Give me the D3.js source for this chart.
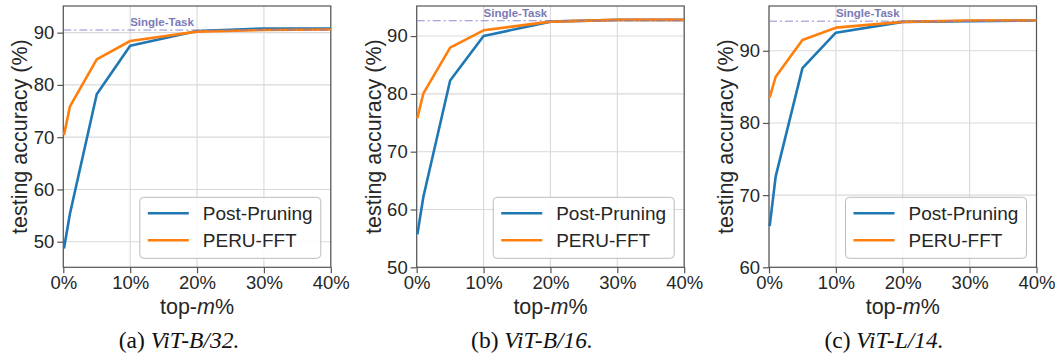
<!DOCTYPE html>
<html>
<head>
<meta charset="utf-8">
<script src="https://cdn.jsdelivr.net/npm/d3@7"></script>
<style>
  body { margin: 0; background: #fff; }
  svg { display: block; }
</style>
</head>
<body>
<svg id="chart" width="1058" height="354"></svg>
<script>
// values
const topM = [0.1, 1, 5, 10, 20, 30, 40];
const xTicks = [0, 10, 20, 30, 40];

const postPruningB32 = [48.7, 55.4, 78.2, 87.5, 90.3, 90.8, 90.8];
const peruFftB32 = [70.4, 75.9, 84.9, 88.4, 90.2, 90.5, 90.6];
const singleTaskB32 = 90.5;

const postPruningB16 = [55.7, 62.2, 82.3, 90.0, 92.5, 92.8, 92.8];
const peruFftB16 = [75.8, 80.1, 88.0, 91.0, 92.5, 92.8, 92.8];
const singleTaskB16 = 92.65;

const postPruningL14 = [65.7, 72.6, 87.6, 92.5, 94.0, 94.1, 94.2];
const peruFftL14 = [83.5, 86.4, 91.5, 93.2, 94.0, 94.2, 94.2];
const singleTaskL14 = 94.1;

const seriesNames = ["Post-Pruning", "PERU-FFT"];
const colors = ["#1f77b4", "#ff7f0e"];
const captionTags = ["(a) ", "(b) ", "(c) "];
const captionModels = ["ViT-B/32.", "ViT-B/16.", "ViT-L/14."];

const panels = [
  {left: 63.3, yDomain: [45.1, 95.1], yTicks: [50, 60, 70, 80, 90], series: [postPruningB32, peruFftB32], single: singleTaskB32, cap: 179},
  {left: 416.7, yDomain: [50, 95.2], yTicks: [50, 60, 70, 80, 90], series: [postPruningB16, peruFftB16], single: singleTaskB16, cap: 532},
  {left: 769, yDomain: [60, 96.2], yTicks: [60, 70, 80, 90], series: [postPruningL14, peruFftL14], single: singleTaskL14, cap: 884}
];

const W = 267.5, plotTop = 6, plotBottom = 267.3;
const font = "'Liberation Sans', Arial, sans-serif";
const svg = d3.select("#chart");

panels.forEach((p, k) => {
  const x = d3.scaleLinear().domain([0, 40]).range([p.left, p.left + W]);
  const y = d3.scaleLinear().domain(p.yDomain).range([plotBottom, plotTop]);
  const g = svg.append("g");

  // grid
  g.selectAll(".gx").data(xTicks).enter().append("line")
    .attr("x1", d => x(d)).attr("x2", d => x(d))
    .attr("y1", plotTop).attr("y2", plotBottom)
    .attr("stroke", "#d9d9d9").attr("stroke-width", 1.1);
  g.selectAll(".gy").data(p.yTicks).enter().append("line")
    .attr("x1", p.left).attr("x2", p.left + W)
    .attr("y1", d => y(d)).attr("y2", d => y(d))
    .attr("stroke", "#d9d9d9").attr("stroke-width", 1.1);

  // axes
  const xAxis = g.append("g").attr("transform", `translate(0,${plotBottom})`)
    .call(d3.axisBottom(x).tickValues(xTicks).tickFormat(d => d + "%").tickSizeOuter(0).tickSize(6).tickPadding(3));
  const yAxis = g.append("g").attr("transform", `translate(${p.left},0)`)
    .call(d3.axisLeft(y).tickValues(p.yTicks).tickSizeOuter(0).tickSize(6).tickPadding(3));
  [xAxis, yAxis].forEach(a => {
    a.select(".domain").remove();
    a.selectAll("line").attr("stroke", "#555").attr("stroke-width", 1.2);
    a.selectAll("text").attr("font-family", font).attr("font-size", 18.5).attr("fill", "#262626");
  });

  // spines
  g.append("rect").attr("x", p.left).attr("y", plotTop).attr("width", W).attr("height", plotBottom - plotTop)
    .attr("fill", "none").attr("stroke", "#555").attr("stroke-width", 1.2);

  // lines
  const line = d3.line().x((d, i) => x(topM[i])).y(d => y(d));
  p.series.forEach((s, j) => {
    g.append("path").datum(s).attr("d", line)
      .attr("fill", "none").attr("stroke", colors[j]).attr("stroke-width", 2.6)
      .attr("stroke-linejoin", "round");
  });

  // single-task reference
  g.append("line")
    .attr("x1", p.left).attr("x2", p.left + W)
    .attr("y1", y(p.single)).attr("y2", y(p.single))
    .attr("stroke", "#7878c8").attr("stroke-opacity", 0.85).attr("stroke-width", 1)
    .attr("stroke-dasharray", "8,3,2,3");
  g.append("text")
    .attr("x", x(10)).attr("y", y(p.single) - 4)
    .attr("font-family", font).attr("font-size", 11.5).attr("font-weight", "bold")
    .attr("fill", "#7a7ab8").text("Single-Task");

  // legend
  const lx = p.left + W - 10 - 181, ly = plotBottom - 9 - 61;
  g.append("rect").attr("x", lx).attr("y", ly).attr("width", 181).attr("height", 61)
    .attr("rx", 4).attr("fill", "#fff").attr("fill-opacity", 0.85)
    .attr("stroke", "#bcbcbc").attr("stroke-width", 1);
  seriesNames.forEach((name, j) => {
    const yy = ly + 16 + j * 27;
    g.append("line").attr("x1", lx + 8).attr("x2", lx + 49).attr("y1", yy).attr("y2", yy)
      .attr("stroke", colors[j]).attr("stroke-width", 2.6);
    g.append("text").attr("x", lx + 63).attr("y", yy + 7)
      .attr("font-family", font).attr("font-size", 19).attr("fill", "#262626").text(name);
  });

  // y label
  const mid = (plotTop + plotBottom) / 2;
  g.append("text")
    .attr("transform", `translate(${p.left - 36},${mid}) rotate(-90)`)
    .attr("text-anchor", "middle").attr("font-family", font).attr("font-size", 21.5)
    .attr("fill", "#262626").text("testing accuracy (%)");

  // x label
  const xl = g.append("text").attr("x", p.left + W / 2).attr("y", 314)
    .attr("text-anchor", "middle").attr("font-family", font).attr("font-size", 21.5).attr("fill", "#262626");
  xl.append("tspan").text("top-");
  xl.append("tspan").attr("font-style", "italic").text("m");
  xl.append("tspan").text("%");

  // caption
  const cap = g.append("text").attr("x", p.cap).attr("y", 348)
    .attr("text-anchor", "middle").attr("font-family", "'Liberation Serif', 'Times New Roman', serif")
    .attr("font-size", 23.5).attr("fill", "#111");
  cap.append("tspan").text(captionTags[k]);
  cap.append("tspan").attr("font-style", "italic").text(captionModels[k]);
});
</script>
</body>
</html>
